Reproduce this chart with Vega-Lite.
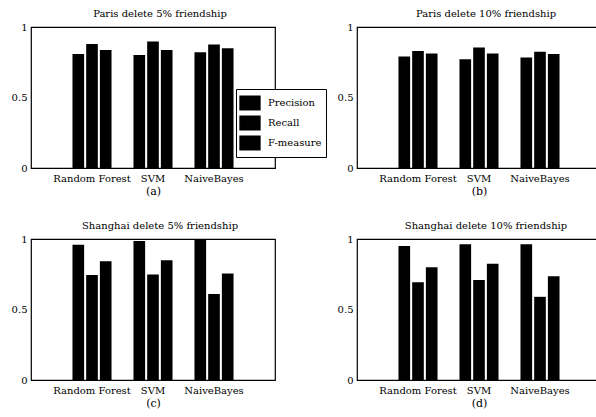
{
  "$schema": "https://vega.github.io/schema/vega-lite/v6.json",
  "padding": {"left": 10, "top": 8, "right": 0, "bottom": 0},
  "background": "white",
  "config": {
    "font": "DejaVu Serif",
    "view": {"stroke": "black", "strokeWidth": 1.2},
    "axis": {"labelFont": "DejaVu Serif", "labelFontSize": 10, "labelColor": "black", "labelFontWeight": "normal", "titleFont": "DejaVu Serif", "titleFontSize": 11, "titleFontWeight": "normal", "titleColor": "black", "grid": false, "ticks": false, "domain": false},
    "title": {"font": "DejaVu Serif", "fontSize": 10, "fontWeight": "normal", "color": "black", "offset": 3},
    "legend": {"labelFont": "DejaVu Serif", "labelFontSize": 10, "labelColor": "black"}
  },
  "datasets": {
    "all": [
      {"panel": "a", "method": "Random Forest", "metric": "Precision", "value": 0.809},
      {"panel": "a", "method": "Random Forest", "metric": "Recall", "value": 0.880},
      {"panel": "a", "method": "Random Forest", "metric": "F-measure", "value": 0.837},
      {"panel": "a", "method": "SVM", "metric": "Precision", "value": 0.801},
      {"panel": "a", "method": "SVM", "metric": "Recall", "value": 0.897},
      {"panel": "a", "method": "SVM", "metric": "F-measure", "value": 0.837},
      {"panel": "a", "method": "NaiveBayes", "metric": "Precision", "value": 0.821},
      {"panel": "a", "method": "NaiveBayes", "metric": "Recall", "value": 0.876},
      {"panel": "a", "method": "NaiveBayes", "metric": "F-measure", "value": 0.849},
      {"panel": "b", "method": "Random Forest", "metric": "Precision", "value": 0.790},
      {"panel": "b", "method": "Random Forest", "metric": "Recall", "value": 0.830},
      {"panel": "b", "method": "Random Forest", "metric": "F-measure", "value": 0.812},
      {"panel": "b", "method": "SVM", "metric": "Precision", "value": 0.772},
      {"panel": "b", "method": "SVM", "metric": "Recall", "value": 0.855},
      {"panel": "b", "method": "SVM", "metric": "F-measure", "value": 0.812},
      {"panel": "b", "method": "NaiveBayes", "metric": "Precision", "value": 0.783},
      {"panel": "b", "method": "NaiveBayes", "metric": "Recall", "value": 0.825},
      {"panel": "b", "method": "NaiveBayes", "metric": "F-measure", "value": 0.808},
      {"panel": "c", "method": "Random Forest", "metric": "Precision", "value": 0.960},
      {"panel": "c", "method": "Random Forest", "metric": "Recall", "value": 0.745},
      {"panel": "c", "method": "Random Forest", "metric": "F-measure", "value": 0.842},
      {"panel": "c", "method": "SVM", "metric": "Precision", "value": 0.985},
      {"panel": "c", "method": "SVM", "metric": "Recall", "value": 0.748},
      {"panel": "c", "method": "SVM", "metric": "F-measure", "value": 0.850},
      {"panel": "c", "method": "NaiveBayes", "metric": "Precision", "value": 1.0},
      {"panel": "c", "method": "NaiveBayes", "metric": "Recall", "value": 0.610},
      {"panel": "c", "method": "NaiveBayes", "metric": "F-measure", "value": 0.755},
      {"panel": "d", "method": "Random Forest", "metric": "Precision", "value": 0.950},
      {"panel": "d", "method": "Random Forest", "metric": "Recall", "value": 0.693},
      {"panel": "d", "method": "Random Forest", "metric": "F-measure", "value": 0.800},
      {"panel": "d", "method": "SVM", "metric": "Precision", "value": 0.962},
      {"panel": "d", "method": "SVM", "metric": "Recall", "value": 0.710},
      {"panel": "d", "method": "SVM", "metric": "F-measure", "value": 0.825},
      {"panel": "d", "method": "NaiveBayes", "metric": "Precision", "value": 0.962},
      {"panel": "d", "method": "NaiveBayes", "metric": "Recall", "value": 0.590},
      {"panel": "d", "method": "NaiveBayes", "metric": "F-measure", "value": 0.735}
    ]
  },
  "data": {"name": "all"},
  "spacing": 23,
  "vconcat": [
    {
      "spacing": 60,
      "hconcat": [
        {
          "width": 244, "height": 141,
          "title": {"text": "Paris delete 5% friendship", "dx": 7},
          "transform": [{"filter": "datum.panel === 'a'"}],
          "mark": {"type": "bar"},
          "encoding": {
            "x": {"field": "method", "type": "nominal", "sort": ["Random Forest", "SVM", "NaiveBayes"], "scale": {"paddingInner": 0.36, "paddingOuter": 0.68}, "axis": {"title": "(a)", "labelAngle": 0, "labelPadding": 5, "titlePadding": 2}},
            "xOffset": {"field": "metric", "type": "nominal", "sort": ["Precision", "Recall", "F-measure"], "scale": {"paddingInner": 0.15}},
            "y": {"field": "value", "type": "quantitative", "scale": {"domain": [0, 1]}, "axis": {"title": null, "values": [0, 0.5, 1], "format": "~g", "labelPadding": 4}},
            "color": {"field": "metric", "type": "nominal", "sort": ["Precision", "Recall", "F-measure"], "scale": {"range": ["black", "black", "black"]},
              "legend": {"title": null, "orient": "none", "legendX": 205, "legendY": 62, "strokeColor": "black", "fillColor": "white", "padding": 4, "symbolType": "M-1.1,-0.75H1.1V0.75H-1.1Z", "symbolSize": 324, "symbolFillColor": "black", "symbolStrokeColor": "black", "symbolOpacity": 1, "rowPadding": 0, "labelOffset": 8, "labelFont": "DejaVu Serif", "labelFontSize": 10, "labelColor": "black"}}
          }
        },
        {
          "width": 244, "height": 141,
          "title": {"text": "Paris delete 10% friendship", "dx": 7},
          "transform": [{"filter": "datum.panel === 'b'"}],
          "mark": {"type": "bar"},
          "encoding": {
            "x": {"field": "method", "type": "nominal", "sort": ["Random Forest", "SVM", "NaiveBayes"], "scale": {"paddingInner": 0.36, "paddingOuter": 0.68}, "axis": {"title": "(b)", "labelAngle": 0, "labelPadding": 5, "titlePadding": 2}},
            "xOffset": {"field": "metric", "type": "nominal", "sort": ["Precision", "Recall", "F-measure"], "scale": {"paddingInner": 0.15}},
            "y": {"field": "value", "type": "quantitative", "scale": {"domain": [0, 1]}, "axis": {"title": null, "values": [0, 0.5, 1], "format": "~g", "labelPadding": 4}},
            "color": {"field": "metric", "type": "nominal", "sort": ["Precision", "Recall", "F-measure"]}
          }
        }
      ]
    },
    {
      "spacing": 60,
      "hconcat": [
        {
          "width": 244, "height": 141,
          "title": {"text": "Shanghai delete 5% friendship", "dx": 7},
          "transform": [{"filter": "datum.panel === 'c'"}],
          "mark": {"type": "bar"},
          "encoding": {
            "x": {"field": "method", "type": "nominal", "sort": ["Random Forest", "SVM", "NaiveBayes"], "scale": {"paddingInner": 0.36, "paddingOuter": 0.68}, "axis": {"title": "(c)", "labelAngle": 0, "labelPadding": 5, "titlePadding": 2}},
            "xOffset": {"field": "metric", "type": "nominal", "sort": ["Precision", "Recall", "F-measure"], "scale": {"paddingInner": 0.15}},
            "y": {"field": "value", "type": "quantitative", "scale": {"domain": [0, 1]}, "axis": {"title": null, "values": [0, 0.5, 1], "format": "~g", "labelPadding": 4}},
            "color": {"field": "metric", "type": "nominal", "sort": ["Precision", "Recall", "F-measure"]}
          }
        },
        {
          "width": 244, "height": 141,
          "title": {"text": "Shanghai delete 10% friendship", "dx": 7},
          "transform": [{"filter": "datum.panel === 'd'"}],
          "mark": {"type": "bar"},
          "encoding": {
            "x": {"field": "method", "type": "nominal", "sort": ["Random Forest", "SVM", "NaiveBayes"], "scale": {"paddingInner": 0.36, "paddingOuter": 0.68}, "axis": {"title": "(d)", "labelAngle": 0, "labelPadding": 5, "titlePadding": 2}},
            "xOffset": {"field": "metric", "type": "nominal", "sort": ["Precision", "Recall", "F-measure"], "scale": {"paddingInner": 0.15}},
            "y": {"field": "value", "type": "quantitative", "scale": {"domain": [0, 1]}, "axis": {"title": null, "values": [0, 0.5, 1], "format": "~g", "labelPadding": 4}},
            "color": {"field": "metric", "type": "nominal", "sort": ["Precision", "Recall", "F-measure"]}
          }
        }
      ]
    }
  ]
}
